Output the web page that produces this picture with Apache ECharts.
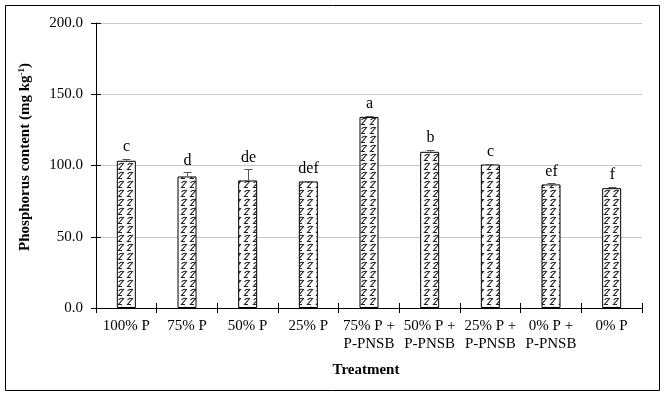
<!DOCTYPE html>
<html>
<head>
<meta charset="utf-8">
<script src="https://cdn.jsdelivr.net/npm/echarts@6/dist/echarts.min.js"></script>
<style>
  html, body { margin: 0; padding: 0; background: #fff; }
  #main { width: 665px; height: 396px; }
</style>
</head>
<body>
<div id="main"></div>
<script>
// data
const categories = ['100% P', '75% P', '50% P', '25% P', '75% P +\nP-PNSB', '50% P +\nP-PNSB', '25% P +\nP-PNSB', '0% P +\nP-PNSB', '0% P'];
const means = [103.3, 92.3, 89.5, 88.8, 134.1, 109.6, 100.7, 86.7, 84.1];
const errors = [1.3, 2.8, 7.7, 0.5, 0.6, 1.5, 0.5, 0.8, 0.9];
const letters = ['c', 'd', 'de', 'def', 'a', 'b', 'c', 'ef', 'f'];

const serif = '"Liberation Serif", "Times New Roman", serif';

// wave hatch fill like the excel pattern ("2"-shaped strokes)
const makePattern = () => {
    const c = document.createElement('canvas');
    c.width = 9;
    c.height = 9;
    const ctx = c.getContext('2d');
    ctx.fillStyle = '#fff';
    ctx.fillRect(0, 0, 9, 9);
    ctx.strokeStyle = '#222';
    ctx.lineWidth = 1.1;
    ctx.beginPath();
    ctx.moveTo(1.5, 3);
    ctx.quadraticCurveTo(3.5, 0.5, 6.5, 1.5);
    ctx.lineTo(1.5, 7.5);
    ctx.lineTo(5, 7.5);
    ctx.stroke();
    return c;
};

const chart = echarts.init(document.getElementById('main'), null, { renderer: 'canvas' });

const option = {
    animation: false,
    grid: { left: 96, right: 23, top: 23, bottom: 88 },
    graphic: [
        {
            type: 'rect',
            shape: { x: 5.5, y: 5.5, width: 654, height: 385 },
            style: { fill: 'none', stroke: '#000', lineWidth: 1 },
            silent: true
        },
        {
            type: 'text',
            x: 25,
            y: 157,
            rotation: Math.PI / 2,
            style: {
                text: '{a|Phosphorus content (mg kg}{s|-1}{a|)}',
                align: 'center',
                verticalAlign: 'middle',
                rich: {
                    a: { fontFamily: serif, fontSize: 15, fontWeight: 'bold', fill: '#000' },
                    s: { fontFamily: serif, fontSize: 9, fontWeight: 'bold', fill: '#000', verticalAlign: 'top', padding: [0, 0, 7, 0] }
                }
            }
        },
        {
            type: 'text',
            x: 366,
            y: 370,
            style: {
                text: 'Treatment',
                align: 'center',
                verticalAlign: 'middle',
                fontFamily: serif,
                fontSize: 15,
                fontWeight: 'bold',
                fill: '#000'
            }
        }
    ],
    xAxis: [
        {
            type: 'category',
            data: categories,
            axisLine: { lineStyle: { color: '#000', width: 1 } },
            axisTick: { show: true, length: 5, lineStyle: { color: '#000' } },
            axisLabel: { color: '#000', fontFamily: serif, fontSize: 15, lineHeight: 18, margin: 9, interval: 0 }
        },
        {
            type: 'category',
            data: categories,
            position: 'bottom',
            axisLine: { show: false },
            axisTick: { show: true, inside: true, length: 5, lineStyle: { color: '#000' } },
            axisLabel: { show: false }
        }
    ],
    yAxis: [
        {
            type: 'value',
            min: 0,
            max: 200,
            interval: 50,
            axisLine: { show: true, lineStyle: { color: '#000' } },
            axisTick: { show: true, length: 5, lineStyle: { color: '#000' } },
            axisLabel: {
                color: '#000',
                fontFamily: serif,
                fontSize: 15,
                margin: 13,
                formatter: (v) => v.toFixed(1)
            },
            splitLine: { show: true, lineStyle: { color: '#c8c8c8', width: 1 } }
        },
        {
            type: 'value',
            min: 0,
            max: 200,
            interval: 50,
            position: 'left',
            axisLine: { show: false },
            axisTick: { show: true, inside: true, length: 5, lineStyle: { color: '#000' } },
            axisLabel: { show: false },
            splitLine: { show: false }
        }
    ],
    series: [
        {
            type: 'bar',
            data: means,
            barWidth: 19,
            itemStyle: {
                color: { image: makePattern(), repeat: 'repeat' },
                borderColor: '#000',
                borderWidth: 1
            },
            z: 2
        },
        {
            type: 'custom',
            z: 3,
            data: means.map((m, i) => [i, m, errors[i]]),
            renderItem: (params, api) => {
                const i = api.value(0);
                const m = api.value(1);
                const e = api.value(2);
                const base = api.coord([i, m]);
                const top = api.coord([i, m + e]);
                const x = Math.round(base[0]) + 0.5;
                const yTop = Math.round(top[1]) + 0.5;
                const col = '#555';
                return {
                    type: 'group',
                    children: [
                        {
                            type: 'line',
                            shape: { x1: x, y1: base[1], x2: x, y2: yTop },
                            style: { stroke: col, lineWidth: 1 }
                        },
                        {
                            type: 'line',
                            shape: { x1: x - 4, y1: yTop, x2: x + 4, y2: yTop },
                            style: { stroke: col, lineWidth: 1 }
                        },
                        {
                            type: 'text',
                            x: x,
                            y: top[1] - 4,
                            style: {
                                text: letters[i],
                                align: 'center',
                                verticalAlign: 'bottom',
                                fontFamily: serif,
                                fontSize: 16,
                                fill: '#000'
                            }
                        }
                    ]
                };
            }
        }
    ]
};

chart.setOption(option);
</script>
</body>
</html>
